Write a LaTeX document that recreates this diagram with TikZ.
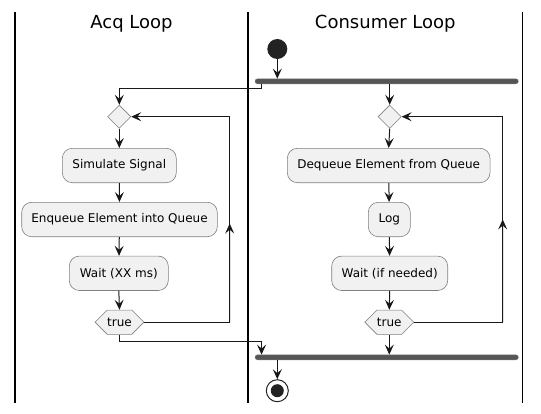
\documentclass[tikz,border=0pt]{standalone}
\usepackage{fontspec}
\setmainfont{DejaVu Sans}
\usetikzlibrary{arrows.meta,shapes.geometric,shapes.symbols,calc}
\definecolor{boxfill}{HTML}{F1F1F1}
\definecolor{boxline}{HTML}{7F7F7F}
\definecolor{barcol}{HTML}{555555}
\definecolor{ink}{HTML}{181818}
\definecolor{dotcol}{HTML}{222222}
\begin{document}
\begin{tikzpicture}[x=1pt,y=-1pt,
  act/.style={draw=boxline,fill=boxfill,rounded corners=10pt,minimum height=34.4pt,inner sep=0pt,
    font=\fontsize{12}{14}\selectfont,text=black,line width=0.6pt},
  dec/.style={diamond,aspect=1,draw=boxline,fill=boxfill,minimum width=23.3pt,minimum height=23.3pt,inner sep=0pt,line width=0.6pt},
  hexa/.style={signal,signal to=east and west,signal pointer angle=90,draw=boxline,fill=boxfill,
    minimum height=24.3pt,inner sep=0pt,font=\fontsize{12}{14}\selectfont,line width=0.6pt},
  syncbar/.style={draw=barcol!80,fill=barcol,rounded corners=2.5pt,minimum width=263.3pt,minimum height=5pt,inner sep=0pt},
  lanetitle/.style={font=\fontsize{18}{20}\selectfont,anchor=base,inner sep=0pt},
  lane/.style={draw=black,line width=1.4pt},
  wire/.style={draw=ink,line width=1pt},
  arr/.style={wire,-{Stealth[length=10pt,width=9pt,inset=4pt]}}
]
\useasboundingbox (0,0) rectangle (541,413);
% swimlanes
\draw[lane] (15,12) -- (15,403);
\draw[lane] (248,12) -- (248,403);
\draw[lane] (522.7,12) -- (522.7,403);
\node[lanetitle] (t1) at (131.5,28.7) {Acq Loop};
\node[lanetitle] (t2) at (385.3,28.7) {Consumer Loop};
% nodes
\node[circle,fill=dotcol,minimum size=20pt,inner sep=0pt] (start) at (277.3,49) {};
\node[syncbar] (fork) at (386.7,81.3) {};
\node[dec] (d1) at (119.3,116.7) {};
\node[dec] (d2) at (389.7,116.7) {};
\node[act,minimum width=114pt] (a1) at (119.3,165.5) {Simulate Signal};
\node[act,minimum width=195.6pt] (a2) at (119.5,219.5) {Enqueue Element into Queue};
\node[act,minimum width=99pt] (a3) at (118.8,273.3) {Wait (XX ms)};
\node[hexa,minimum width=47.6pt] (h1) at (119.5,322.2) {true};
\node[act,minimum width=202.7pt] (b1) at (388.7,165.5) {Dequeue Element from Queue};
\node[act,minimum width=42pt] (b2) at (389.3,219.5) {Log};
\node[act,minimum width=116pt] (b3) at (389.7,273.3) {Wait (if needed)};
\node[hexa,minimum width=48pt] (h2) at (389.3,322.2) {true};
\node[syncbar] (join) at (386.7,357.3) {};
\node[circle,draw=dotcol,line width=1pt,fill=white,minimum size=22pt,inner sep=0pt] (end) at (277.3,390.7) {};
\node[circle,fill=dotcol,minimum size=13pt,inner sep=0pt] (endin) at (end) {};
% loop corner coordinates
\coordinate (L1) at (229.7,322.2);
\coordinate (L2) at (229.7,116.7);
\coordinate (R1) at (502.7,322.2);
\coordinate (R2) at (502.7,116.7);
% connectors
\draw[arr] (start) -- (start.south |- fork.north);
\draw[arr] ([xshift=6.7pt]fork.south west) -- ++(0,4.5) -| (d1.north);
\draw[arr] (fork.south -| d2.north) -- (d2.north);
\draw[arr] (d1.south) -- (a1.north);
\draw[arr] (a1) -- (a2);
\draw[arr] (a2) -- (a3);
\draw[arr] (a3.south) -- (h1.north);
\draw[arr] (h1.east) -- (L1) -- (L2) -- (d1.east);
\draw[arr] (L1) -- ($(L1)!0.48!(L2)$);
\draw[arr] (d2.south) -- (b1.north);
\draw[arr] (b1) -- (b2);
\draw[arr] (b2) -- (b3);
\draw[arr] (b3.south) -- (h2.north);
\draw[arr] (h2.east) -- (R1) -- (R2) -- (d2.east);
\draw[arr] (R1) -- ($(R1)!0.5!(R2)$);
\draw[arr] (h1.south) -- ++(0,6.4) -| ([xshift=6.7pt]join.north west);
\draw[arr] (h2.south) -- (h2.south |- join.north);
\draw[arr] (end.north |- join.south) -- (end.north);
\end{tikzpicture}
\end{document}
